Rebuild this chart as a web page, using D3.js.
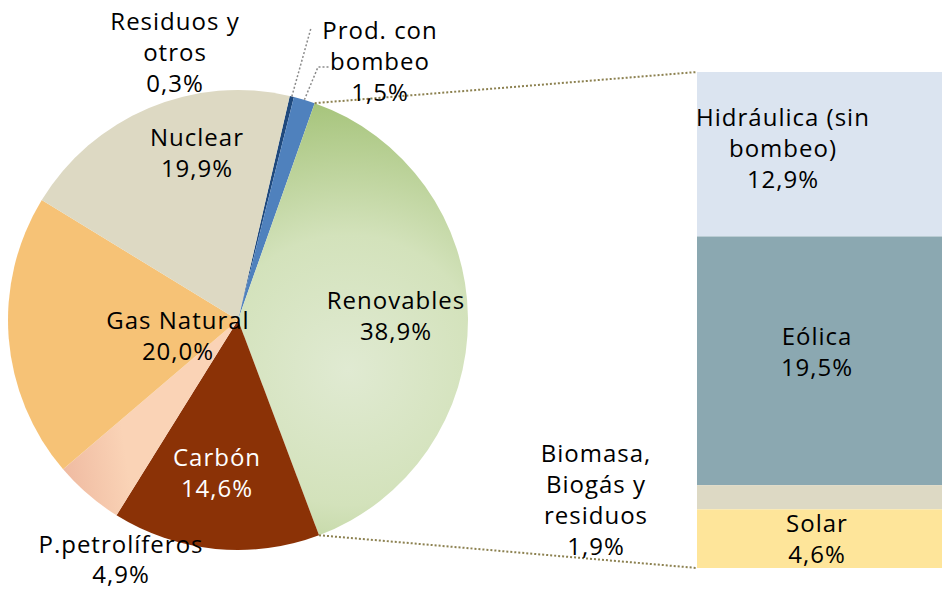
<!DOCTYPE html>
<html>
<head>
<meta charset="utf-8">
<script src="https://cdn.jsdelivr.net/npm/d3@7"></script>
<style>
  body { margin: 0; background: #fff; }
  text { font-family: "Open Sans", "DejaVu Sans", sans-serif; font-size: 24px; letter-spacing: 1px; fill: #000; }
</style>
</head>
<body>
<div id="chart"></div>
<script>
// pie slices, clockwise from the top
const pieLabels = ["Residuos y otros", "Prod. con bombeo", "Renovables", "Carbón", "P.petrolíferos", "Gas Natural", "Nuclear"];
const pieValues = [0.3, 1.5, 38.9, 14.6, 4.9, 20.0, 19.9];
const pieColors = ["#1f497d", "#4f81bd", "url(#gradRen)", "#8b3206", "url(#gradPet)", "#f6c276", "#ddd9c3"];

// breakdown of Renovables (bar, top to bottom)
const barLabels = ["Hidráulica (sin bombeo)", "Eólica", "Biomasa, Biogás y residuos", "Solar"];
const barValues = [12.9, 19.5, 1.9, 4.6];
const barColors = ["#dbe4f0", "#8ba8b1", "#ddd9c4", "#fee59a"];

const width = 942, height = 590;
const cx = 238, cy = 320, r = 230;
const fmt = v => d3.format(".1f")(v).replace(".", ",") + "%";

const svg = d3.select("#chart")
	.append("svg")
	.attr("width", width)
	.attr("height", height);

// gradients (coordinates relative to the pie centre)
const defs = svg.append("defs");
const gRen = defs.append("radialGradient")
	.attr("id", "gradRen")
	.attr("gradientUnits", "userSpaceOnUse")
	.attr("cx", 110).attr("cy", 50).attr("r", 270);
gRen.append("stop").attr("offset", "0%").attr("stop-color", "#e0ead2");
gRen.append("stop").attr("offset", "50%").attr("stop-color", "#d3e2bb");
gRen.append("stop").attr("offset", "100%").attr("stop-color", "#a6c47b");

const gPet = defs.append("linearGradient")
	.attr("id", "gradPet")
	.attr("gradientUnits", "userSpaceOnUse")
	.attr("x1", -180).attr("y1", 160).attr("x2", -110).attr("y2", 150);
gPet.append("stop").attr("offset", "0%").attr("stop-color", "#eeb89f");
gPet.append("stop").attr("offset", "100%").attr("stop-color", "#fad3b6");

// pie
const start = 13 * Math.PI / 180;
const pie = d3.pie().sort(null).startAngle(start).endAngle(start + 2 * Math.PI);
const arcs = pie(pieValues);
const arc = d3.arc().innerRadius(0).outerRadius(r);

const pieG = svg.append("g").attr("transform", `translate(${cx},${cy})`);
pieG.selectAll("path")
	.data(arcs)
	.join("path")
	.attr("d", arc)
	.attr("fill", (d, i) => pieColors[i]);

// bar
const barX = 697, barW = 245;
const y = d3.scaleLinear().domain([0, d3.sum(barValues)]).range([72, 568]);
const cum = d3.cumsum([0].concat(barValues));
svg.append("g").selectAll("rect")
	.data(barValues)
	.join("rect")
	.attr("x", barX)
	.attr("y", (d, i) => y(cum[i]))
	.attr("width", barW)
	.attr("height", (d, i) => y(cum[i + 1]) - y(cum[i]))
	.attr("fill", (d, i) => barColors[i]);

// connector lines between Renovables and the bar
const pt = a => [cx + r * Math.sin(a), cy - r * Math.cos(a)];
const ren = arcs[2];
const p1 = pt(ren.startAngle), p2 = pt(ren.endAngle);
svg.append("line")
	.attr("x1", p1[0]).attr("y1", p1[1]).attr("x2", barX).attr("y2", y(0))
	.attr("stroke", "#8c8150").attr("stroke-width", 2).attr("stroke-dasharray", "2,2");
svg.append("line")
	.attr("x1", p2[0]).attr("y1", p2[1]).attr("x2", barX).attr("y2", y(d3.sum(barValues)))
	.attr("stroke", "#8c8150").attr("stroke-width", 2).attr("stroke-dasharray", "2,2");

// leader lines for the small slices
const mid0 = pt((arcs[0].startAngle + arcs[0].endAngle) / 2);
const mid1 = pt((arcs[1].startAngle + arcs[1].endAngle) / 2);
svg.append("polyline")
	.attr("points", [mid0, [311, 28]].map(p => p.join(",")).join(" "))
	.attr("fill", "none").attr("stroke", "#8a8a8a").attr("stroke-width", 1.5).attr("stroke-dasharray", "2,2");
svg.append("polyline")
	.attr("points", [mid1, [318, 67], [330, 67]].map(p => p.join(",")).join(" "))
	.attr("fill", "none").attr("stroke", "#8a8a8a").attr("stroke-width", 1.5).attr("stroke-dasharray", "2,2");

// labels
const labels = [
	{ lines: ["Residuos y", "otros", fmt(pieValues[0])], x: 175, y: 20 },
	{ lines: ["Prod. con", "bombeo", fmt(pieValues[1])], x: 380, y: 29 },
	{ lines: ["Nuclear", fmt(pieValues[6])], x: 197, y: 136 },
	{ lines: ["Renovables", fmt(pieValues[2])], x: 396, y: 299 },
	{ lines: ["Gas Natural", fmt(pieValues[5])], x: 178, y: 319 },
	{ lines: ["Carbón", fmt(pieValues[3])], x: 217, y: 456, color: "#fff" },
	{ lines: ["P.petrolíferos", fmt(pieValues[4])], x: 121, y: 543, lh: 30 },
	{ lines: ["Biomasa,", "Biogás y", "residuos", fmt(barValues[2])], x: 596, y: 452 },
	{ lines: ["Hidráulica (sin", "bombeo)", fmt(barValues[0])], x: 783, y: 116 },
	{ lines: ["Eólica", fmt(barValues[1])], x: 817, y: 335 },
	{ lines: ["Solar", fmt(barValues[3])], x: 817, y: 522 }
];

const lineH = 31;
labels.forEach(l => {
	const t = svg.append("text")
		.attr("text-anchor", "middle")
		.attr("dominant-baseline", "central")
		.style("fill", l.color || "#000");
	l.lines.forEach((s, i) => {
		t.append("tspan").attr("x", l.x).attr("y", l.y + i * (l.lh || lineH)).text(s);
	});
});
</script>
</body>
</html>
